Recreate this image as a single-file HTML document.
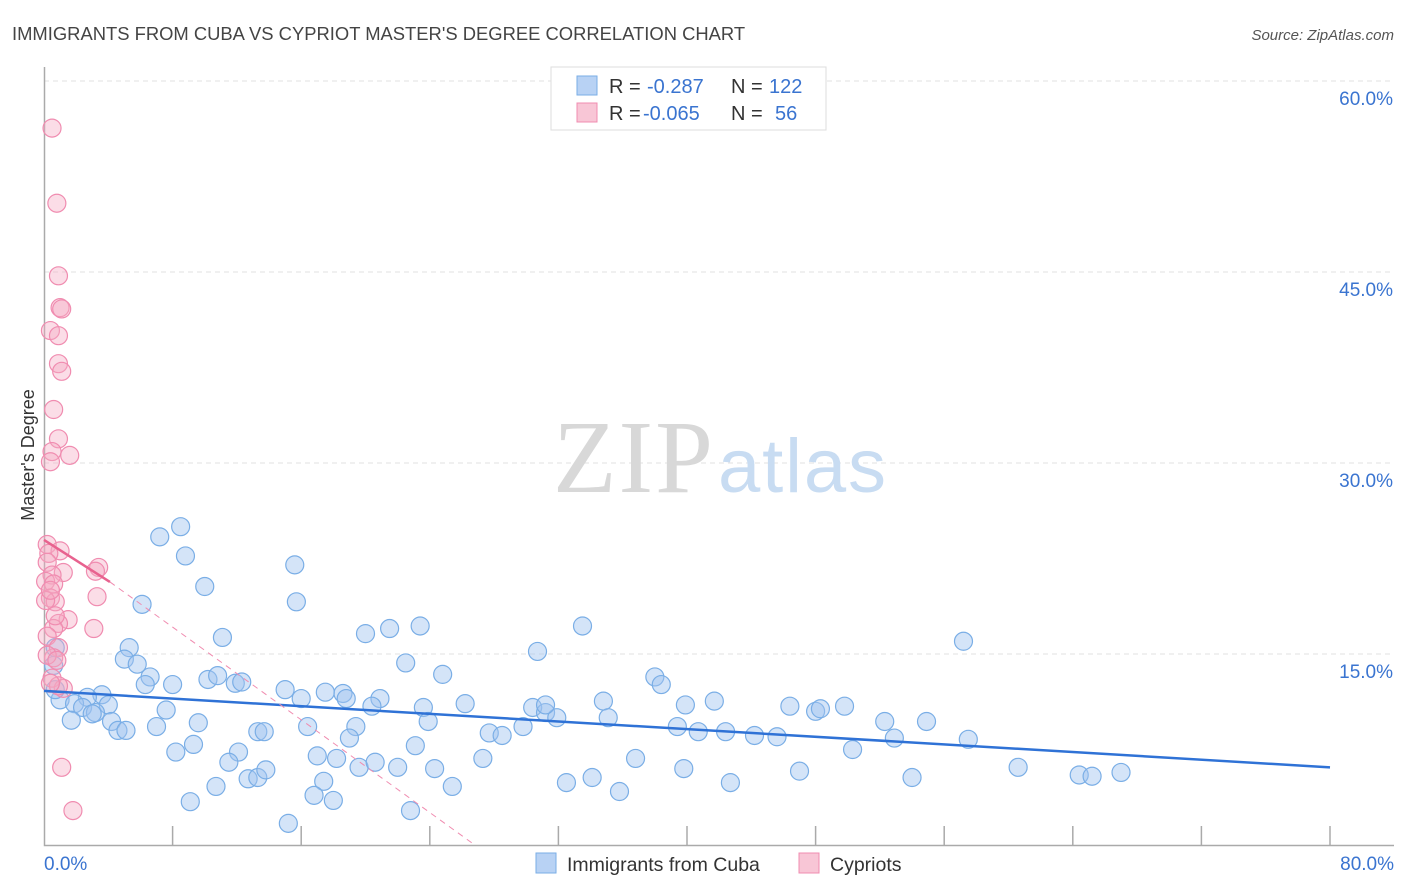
<!DOCTYPE html>
<html><head><meta charset="utf-8"><style>
body{margin:0;background:#fff;font-family:"Liberation Sans",sans-serif;}
svg{display:block}
</style></head><body>
<svg id="chart" width="1406" height="892" viewBox="0 0 1406 892">
<text x="12" y="40" font-size="18.4" fill="#444">IMMIGRANTS FROM CUBA VS CYPRIOT MASTER'S DEGREE CORRELATION CHART</text>
<text x="1394" y="40" font-size="15" fill="#555" font-style="italic" text-anchor="end">Source: ZipAtlas.com</text>
<g id="grid"></g>
<g>
<text x="553" y="492" font-size="104" font-family="Liberation Serif, serif" fill="#d8d8d8" textLength="160">ZIP</text>
<text x="718" y="492" font-size="76" fill="#c8dcf2" textLength="168">atlas</text>
</g>
<text transform="translate(34,455) rotate(-90)" font-size="18" fill="#333" text-anchor="middle">Master's Degree</text>
<g id="axes"></g>
<g id="pts"></g>
<g id="lines"></g>
<g>
<rect x="551" y="67" width="275" height="63" fill="#fff" stroke="#ddd"/>
<rect x="577" y="76" width="20" height="19" fill="#b8d2f4" stroke="#7aaee6"/>
<rect x="577" y="103" width="20" height="19" fill="#f8c6d6" stroke="#f08cb0"/>
<text x="609" y="93" font-size="20" fill="#333">R = <tspan fill="#3a74d0" x="647">-0.287</tspan><tspan x="731">N = </tspan><tspan fill="#3a74d0" x="769">122</tspan></text>
<text x="609" y="120" font-size="20" fill="#333">R = <tspan fill="#3a74d0" x="643">-0.065</tspan><tspan x="731">N = </tspan><tspan fill="#3a74d0" x="775">56</tspan></text>
</g>
<g>
<rect x="536" y="853" width="20" height="20" fill="#b8d2f4" stroke="#7aaee6"/>
<text x="567" y="871" font-size="19.5" fill="#333">Immigrants from Cuba</text>
<rect x="799" y="853" width="20" height="20" fill="#f8c6d6" stroke="#f08cb0"/>
<text x="830" y="871" font-size="19.5" fill="#333">Cypriots</text>
</g>
</svg>
<script>
const yTicks=[15,30,45,60];
const yTickLabels=["15.0%","30.0%","45.0%","60.0%"];
const xTicks=[0,8,16,24,32,40,48,56,64,72,80];
const xEndLabels=["0.0%","80.0%"];
const cubaX=[8.5,7.2,8.8,10.0,6.1,11.1,5.3,5.0,5.8,6.6,6.3,8.0,3.6,2.7,1.0,1.9,2.4,4.0,3.2,3.0,1.7,4.2,4.6,5.1,7.0,7.6,9.6,8.2,9.3,10.2,10.8,11.9,12.3,12.1,11.5,12.7,13.3,13.8,10.7,9.1,13.3,13.7,15.0,16.0,16.4,17.0,17.4,16.8,18.0,15.2,15.6,15.7,17.5,18.6,18.8,19.4,19.0,18.2,19.6,20.6,22.0,20.0,21.5,23.4,22.5,20.9,20.4,23.6,23.9,23.1,24.3,24.8,26.2,25.4,22.8,27.3,27.7,28.5,29.8,30.4,31.2,31.9,30.7,31.2,33.5,34.8,35.1,32.5,34.1,35.8,36.8,38.0,38.4,39.4,39.9,40.7,41.7,42.4,39.8,42.7,44.2,45.6,46.4,47.0,48.0,48.3,49.8,50.3,52.3,52.9,54.9,57.2,57.5,54.0,60.6,64.4,65.2,67.0,0.7,0.6,0.7];
const cubaY=[25.0,24.2,22.7,20.3,18.9,16.3,15.5,14.6,14.2,13.2,12.6,12.6,11.8,11.6,11.4,11.1,10.8,11.0,10.4,10.3,9.8,9.7,9.0,9.0,9.3,10.6,9.6,7.3,7.9,13.0,13.3,12.7,12.8,7.3,6.5,5.2,5.3,5.9,4.6,3.4,8.9,8.9,12.2,11.5,9.3,7.0,5.0,3.9,3.5,1.7,22.0,19.1,12.0,11.9,11.5,9.3,8.4,6.8,6.1,6.5,6.1,16.6,17.0,17.2,14.3,11.5,10.9,10.8,9.7,7.8,6.0,13.4,11.1,4.6,2.7,6.8,8.8,8.6,9.3,10.8,10.4,10.0,15.2,11.0,17.2,11.3,10.0,4.9,5.3,4.2,6.8,13.2,12.6,9.3,11.0,8.9,11.3,8.9,6.0,4.9,8.6,8.5,10.9,5.8,10.5,10.7,10.9,7.5,9.7,8.4,9.7,16.0,8.3,5.3,6.1,5.5,5.4,5.7,15.5,14.1,12.2];
const cypX=[0.5,0.8,0.9,1.0,1.1,0.4,0.9,0.9,1.1,0.6,0.9,0.5,1.6,0.4,0.2,1.0,0.3,0.2,1.2,0.5,0.1,3.4,3.2,0.6,0.4,0.7,3.3,1.5,0.9,0.6,3.1,0.2,0.9,0.6,0.2,0.8,0.5,1.2,0.9,0.4,1.1,1.8,0.1,0.4,0.7];
const cypY=[56.3,50.4,44.7,42.2,42.1,40.4,40.0,37.8,37.2,34.2,31.9,30.9,30.6,30.1,23.6,23.1,22.9,22.2,21.4,21.2,20.7,21.8,21.5,20.5,19.4,19.1,19.5,17.7,17.4,17.0,17.0,16.4,15.5,14.7,14.9,14.5,13.1,12.3,12.5,12.7,6.1,2.7,19.2,20.0,18.0];
const cubaTrend=[[0,12.1],[80,6.1]];
const cypTrend=[[0,23.96],[4.1,20.66]];
const cypTrendExt=[[4.1,20.66],[26.8,0]];

const X=v=>44+v*(1286/80);
const Y=v=>845-v*(191/15);
const NS="http://www.w3.org/2000/svg";
function mk(tag,attrs,parent){const e=document.createElementNS(NS,tag);for(const k in attrs)e.setAttribute(k,attrs[k]);parent.appendChild(e);return e;}
const grid=document.getElementById('grid'),axes=document.getElementById('axes'),pts=document.getElementById('pts'),lines=document.getElementById('lines');
yTicks.forEach((t,i)=>{
  const l=mk('line',{x1:44,x2:1393,y1:Y(t),y2:Y(t),stroke:'#e2e2e2','stroke-width':1,'stroke-dasharray':'5,4'},grid);
  
  
  const tx=mk('text',{x:1393,y:Y(t)+24,'font-size':19,fill:'#3a74d0','text-anchor':'end'},axes);
  tx.textContent=yTickLabels[i];
  
  
});
const ax=mk('path',{d:`M44.5 67V845.5H1394`,stroke:'#aaa',fill:'none','stroke-width':1.5},axes);


xTicks.forEach(t=>{if(t===0)return;
  const l=mk('line',{x1:X(t),x2:X(t),y1:826,y2:845,stroke:'#aaa','stroke-width':1.5},axes);
  
  
});
const xl0=mk('text',{x:44,y:870,'font-size':19,fill:'#3a74d0'},axes);xl0.textContent=xEndLabels[0];


const xl1=mk('text',{x:1394,y:870,'font-size':19,fill:'#3a74d0','text-anchor':'end'},axes);xl1.textContent=xEndLabels[1];


cubaX.forEach((x,i)=>{
  const c=mk('circle',{cx:X(x),cy:Y(cubaY[i]),r:9,fill:'rgba(160,196,240,0.45)',stroke:'#7aaee6','stroke-width':1.2},pts);
  
  
});
cypX.forEach((x,i)=>{
  const c=mk('circle',{cx:X(x),cy:Y(cypY[i]),r:9,fill:'rgba(246,170,196,0.4)',stroke:'#f08cb0','stroke-width':1.2},pts);
  
  
});
const l1=mk('line',{x1:X(cubaTrend[0][0]),y1:Y(cubaTrend[0][1]),x2:X(cubaTrend[1][0]),y2:Y(cubaTrend[1][1]),stroke:'#2f72d6','stroke-width':2.5},lines);


const l2=mk('line',{x1:X(cypTrendExt[0][0]),y1:Y(cypTrendExt[0][1]),x2:X(cypTrendExt[1][0]),y2:Y(cypTrendExt[1][1]),stroke:'#f08cb0','stroke-width':1,'stroke-dasharray':'6,5'},lines);


const l3=mk('line',{x1:X(cypTrend[0][0]),y1:Y(cypTrend[0][1]),x2:X(cypTrend[1][0]),y2:Y(cypTrend[1][1]),stroke:'#e8628f','stroke-width':2.5},lines);


</script>
</body></html>
